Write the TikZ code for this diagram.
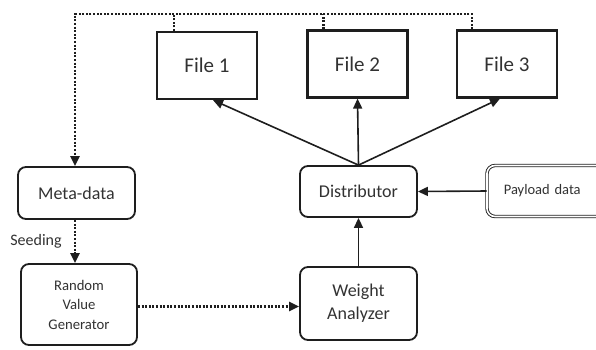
\documentclass[tikz,border=0pt]{standalone}
\usepackage{fontspec}
\setmainfont{Carlito}
\usetikzlibrary{arrows.meta}
\definecolor{txtgray}{RGB}{50,50,50}
\definecolor{linegray}{RGB}{30,30,30}

\begin{document}
\begin{tikzpicture}[x=1pt,y=-1pt,
  filebox/.style={draw=linegray,line width=2.2pt,minimum width=100pt,minimum height=67pt,
    text=txtgray,font=\fontsize{21}{24}\selectfont},
  roundbox/.style={draw=linegray,line width=1.8pt,rounded corners=8pt,minimum width=117pt,
    text=txtgray,font=\fontsize{18}{23}\selectfont,align=center},
  arr/.style={draw=linegray,line width=1.6pt,-{Triangle[length=10pt,width=9pt]}},
  dotline/.style={draw=linegray,line width=2.8pt,dash pattern=on 2pt off 1.6pt}]
\useasboundingbox (0,0) rectangle (596,349);
% Files
\node[filebox] (file1) at (207,65.5) {File 1};
\node[filebox] (file2) at (357.5,64) {File 2};
\node[filebox] (file3) at (507,64) {File 3};
% Boxes
\node[roundbox,minimum height=52pt] (meta) at (76.5,193) {Meta-data};
\node[roundbox,minimum height=51pt] (dist) at (358.5,191.5) {Distributor};
\node[roundbox,minimum height=73pt] (wa) at (358.5,303.5) {Weight\\Analyzer};
\node[roundbox,minimum width=116pt,minimum height=81pt,font=\fontsize{14.7}{19.5}\selectfont]
  (rvg) at (79,304.5) {Random\\Value\\Generator};
\node[roundbox,minimum width=124pt,minimum height=51pt,line width=0.9pt,double=white,
  double distance=1.6pt,font=\fontsize{14.5}{18}\selectfont,text width=100pt,align=left]
  (payload) at (549,191) {~Payload data};
\node[text=txtgray,font=\fontsize{16}{19}\selectfont] (seed) at (36,241) {Seeding};
% Feedback bus
\coordinate (bus) at (0,14);
\coordinate (d1) at ([xshift=18pt]file1.north west);
\coordinate (d2) at ([xshift=17pt]file2.north west);
\coordinate (d3) at ([xshift=16pt]file3.north west);
\draw[dotline] (d1) -- (d1 |- bus);
\draw[dotline] (d2) -- (d2 |- bus);
\draw[dotline,-{Triangle[length=10pt,width=9pt]}] (d3) |- ([xshift=-1.5pt]meta.north |- bus) -- ([xshift=-1.5pt]meta.north);
% Flow
\draw[arr] (dist.north) -- ([xshift=6pt]file1.south);
\draw[arr] (dist.north) -- (file2.south);
\draw[arr] (dist.north) -- ([xshift=-7pt]file3.south);
\draw[arr] (payload.west) -- (dist.east);
\draw[arr] (wa.north) -- (dist.south);
\draw[dotline,-{Triangle[length=10pt,width=9pt]}] ([xshift=-1.5pt]meta.south) -- ([xshift=-1.5pt]meta.south |- rvg.north);
\draw[dotline,-{Triangle[length=10pt,width=9pt]}] ([yshift=-2pt]rvg.east) -- ([yshift=-2pt]rvg.east -| wa.west);
\end{tikzpicture}
\end{document}
